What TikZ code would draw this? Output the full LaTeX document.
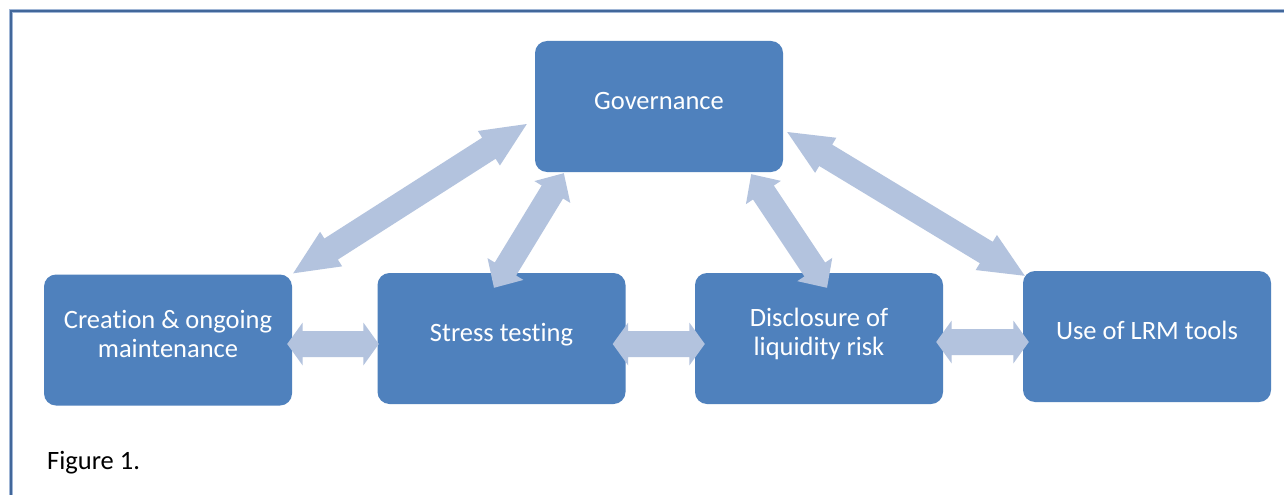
\documentclass[tikz,border=0pt]{standalone}
\usepackage{fontspec}
\setmainfont[Ligatures=NoCommon]{Carlito}
\usetikzlibrary{calc}
\definecolor{boxblue}{RGB}{79,129,189}
\definecolor{arrowblue}{RGB}{179,195,222}
\definecolor{framedark}{RGB}{66,103,154}
\definecolor{framelight}{RGB}{160,182,214}
% double arrow polygon between two named coordinates
% #1 start, #2 end, #3 shaft half width, #4 head half width, #5 head length
\newcommand\dblarrow[5]{%
  \coordinate (da) at ($(#1)!#5!(#2)$);
  \coordinate (db) at ($(#2)!#5!(#1)$);
  \fill[arrowfill] (#1)
    -- ($(da)!#4!90:(#2)$) -- ($(da)!#3!90:(#2)$)
    -- ($(db)!#3!-90:(#1)$) -- ($(db)!#4!-90:(#1)$)
    -- (#2)
    -- ($(db)!#4!90:(#1)$) -- ($(db)!#3!90:(#1)$)
    -- ($(da)!#3!-90:(#2)$) -- ($(da)!#4!-90:(#2)$)
    -- cycle;}
\begin{document}
\begin{tikzpicture}[x=1pt,y=-1pt,
  box/.style={fill=boxblue, rounded corners=12pt, minimum width=248pt,
    minimum height=131pt, inner sep=0pt, text=white,
    font=\fontsize{26.5}{29}\selectfont, align=center,
    text height=14pt, text depth=8pt},
  box2/.style={box, text height=40pt, text depth=6pt},
  arrowfill/.style={fill=arrowblue},
  caption/.style={anchor=base west, inner sep=0pt, text=black,
    font=\fontsize{26.5}{29}\selectfont}]
\useasboundingbox (0,0) rectangle (1284,495);
\fill[white] (0,0) rectangle (1284,495);
% frame
\draw[framelight, line width=4.5pt] (1284,11) -- (11,11) -- (11,495);
\draw[framedark, line width=2.6pt] (1284,11) -- (11,11) -- (11,495);
% boxes
\node[box] (gov) at (659,106.5) {Governance};
\node[box2] (cre) at (168,340) {Creation \& ongoing\\maintenance};
\node[box] (str) at (501.5,338.5) {Stress testing};
\node[box2] (dis) at (819,338.5) {Disclosure of\\liquidity risk};
\node[box] (lrm) at (1147,336.5) {Use of LRM tools};
% arrow end points
\coordinate (g1) at ($(gov.west)+(-8,17.5)$);
\coordinate (c1) at ($(cre.north east)+(1,-1)$);
\coordinate (g2) at ($(gov.south west)+(29,1)$);
\coordinate (s1) at ($(str.north)+(-7.5,15)$);
\coordinate (g3) at ($(gov.south east)+(-32,2)$);
\coordinate (d1) at ($(dis.north)+(8,15)$);
\coordinate (g4) at ($(gov.east)+(4,25.5)$);
\coordinate (l1) at ($(lrm.north west)+(2,5)$);
\coordinate (h1a) at ($(cre.east)+(-5,4)$);
\coordinate (h1b) at ($(str.west)+(1.5,5.5)$);
\coordinate (h2a) at ($(str.east)+(-13,5.5)$);
\coordinate (h2b) at ($(dis.west)+(10,5.5)$);
\coordinate (h3a) at ($(dis.east)+(-7,3.5)$);
\coordinate (h3b) at ($(lrm.west)+(6,5.5)$);
% arrows
\dblarrow{g1}{c1}{12.5pt}{20.5pt}{45pt}
\dblarrow{g2}{s1}{12.5pt}{21pt}{22pt}
\dblarrow{g3}{d1}{12.5pt}{21pt}{22pt}
\dblarrow{g4}{l1}{12.5pt}{20.5pt}{45pt}
\dblarrow{h1a}{h1b}{13pt}{21.5pt}{15.5pt}
\dblarrow{h2a}{h2b}{13pt}{21.5pt}{15.5pt}
\dblarrow{h3a}{h3b}{13pt}{21.5pt}{15.5pt}
% caption
\node[caption] (fig) at (47,469) {Figure 1.};
\end{tikzpicture}
\end{document}
